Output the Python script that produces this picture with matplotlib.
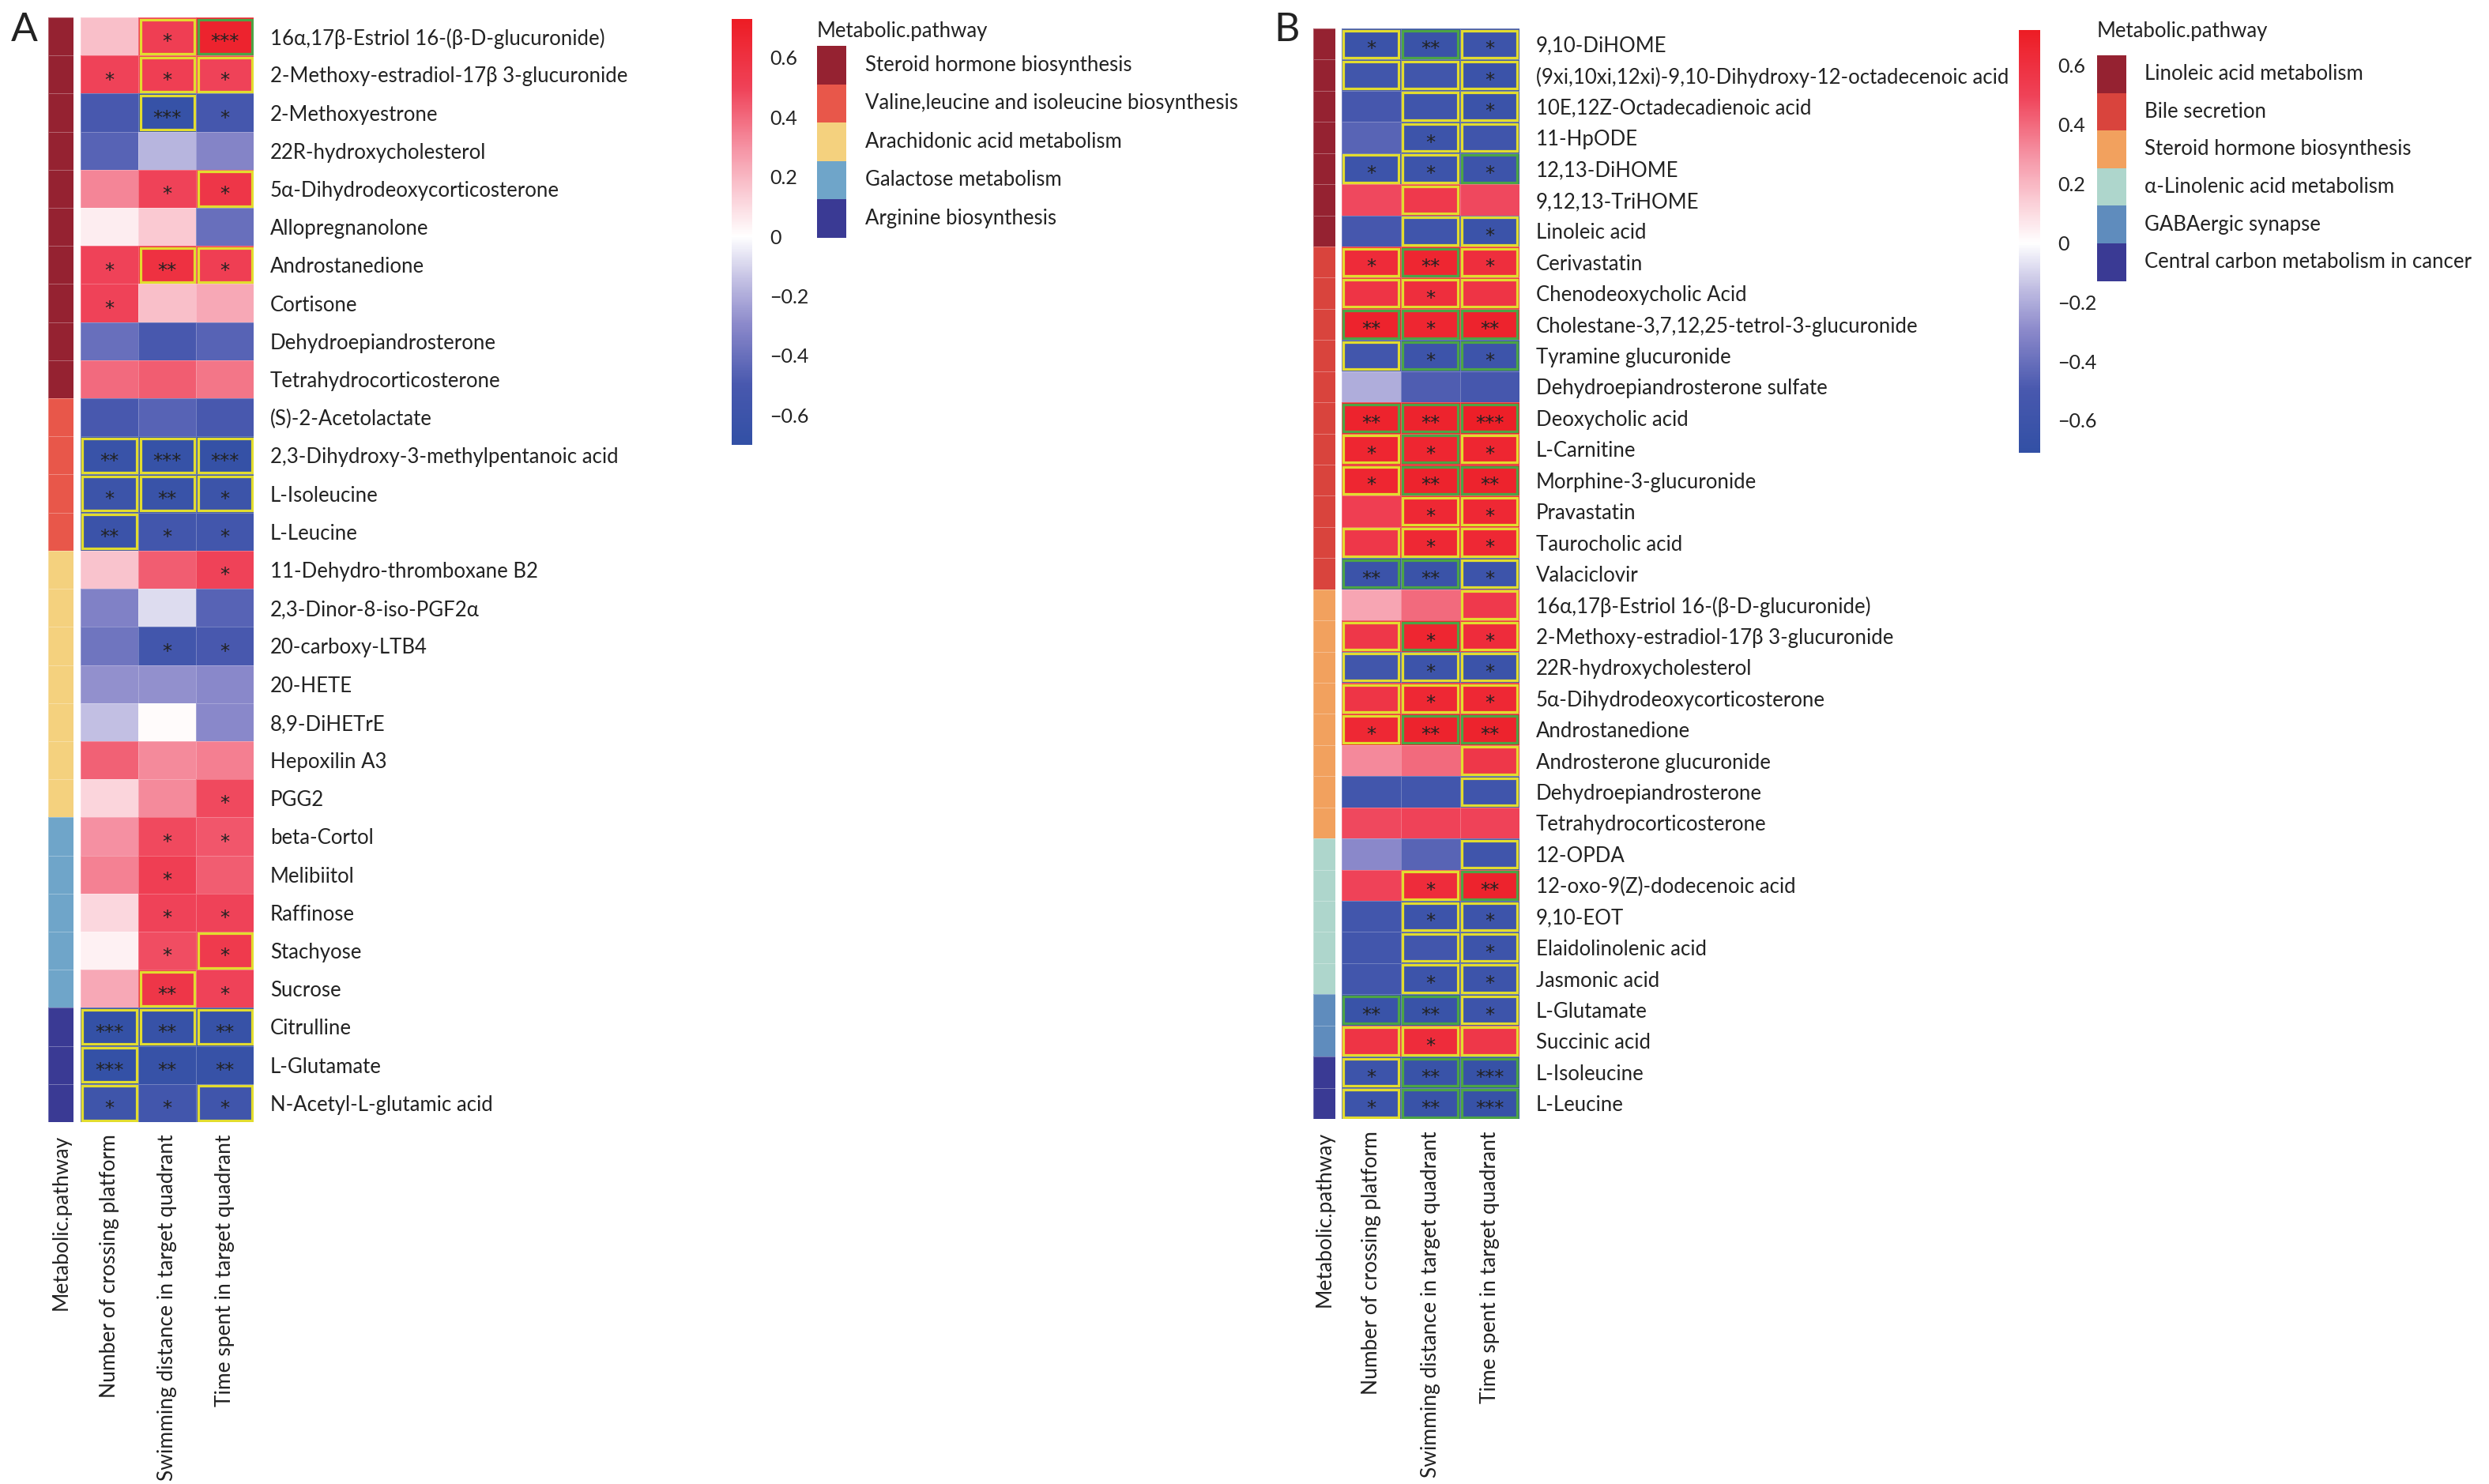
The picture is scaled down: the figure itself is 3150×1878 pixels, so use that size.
import numpy as np
import matplotlib
matplotlib.use('Agg')
import matplotlib.pyplot as plt
from matplotlib.colors import LinearSegmentedColormap, ListedColormap, Normalize, BoundaryNorm
from matplotlib.patches import Rectangle
import matplotlib.colorbar as mcolorbar

plt.rcParams['font.family'] = ['Lato', 'DejaVu Sans']

# ------------------------------------------------------------------ data
col_labels = ["Number of crossing platform",
              "Swimming distance in target quadrant",
              "Time spent in target quadrant"]
anno_label = "Metabolic.pathway"
cbar_ticks = [-0.6, -0.4, -0.2, 0, 0.2, 0.4, 0.6]
cbar_ticklabels = ["\u22120.6", "\u22120.4", "\u22120.2", "0", "0.2", "0.4", "0.6"]

# ---- Panel A
pathways_A = ["Steroid hormone biosynthesis",
              "Valine,leucine and isoleucine biosynthesis",
              "Arachidonic acid metabolism",
              "Galactose metabolism",
              "Arginine biosynthesis"]
pathway_colors_A = ["#952231", "#E8574A", "#F4D17E", "#6FA5C9", "#3A3A94"]

rows_A = ["16\u03b1,17\u03b2-Estriol 16-(\u03b2-D-glucuronide)",
          "2-Methoxy-estradiol-17\u03b2 3-glucuronide",
          "2-Methoxyestrone",
          "22R-hydroxycholesterol",
          "5\u03b1-Dihydrodeoxycorticosterone",
          "Allopregnanolone",
          "Androstanedione",
          "Cortisone",
          "Dehydroepiandrosterone",
          "Tetrahydrocorticosterone",
          "(S)-2-Acetolactate",
          "2,3-Dihydroxy-3-methylpentanoic acid",
          "L-Isoleucine",
          "L-Leucine",
          "11-Dehydro-thromboxane B2",
          "2,3-Dinor-8-iso-PGF2\u03b1",
          "20-carboxy-LTB4",
          "20-HETE",
          "8,9-DiHETrE",
          "Hepoxilin A3",
          "PGG2",
          "beta-Cortol",
          "Melibiitol",
          "Raffinose",
          "Stachyose",
          "Sucrose",
          "Citrulline",
          "L-Glutamate",
          "N-Acetyl-L-glutamic acid"]
path_A = [0]*10 + [1]*4 + [2]*7 + [3]*5 + [4]*3

cross_A = [0.18, 0.50, -0.50, -0.45, 0.33, 0.05, 0.50, 0.50, -0.40, 0.40,
           -0.50, -0.63, -0.60, -0.62,
           0.17, -0.33, -0.38, -0.28, -0.15, 0.42, 0.12,
           0.30, 0.34, 0.11, 0.04, 0.24,
           -0.68, -0.68, -0.58]
swim_A = [0.52, 0.52, -0.66, -0.18, 0.50, 0.15, 0.60, 0.18, -0.50, 0.43,
          -0.45, -0.66, -0.63, -0.55,
          0.43, -0.08, -0.55, -0.28, 0.01, 0.32, 0.32,
          0.48, 0.52, 0.50, 0.47, 0.57,
          -0.65, -0.65, -0.55]
time_A = [0.68, 0.50, -0.53, -0.32, 0.57, -0.40, 0.52, 0.24, -0.45, 0.37,
          -0.50, -0.67, -0.60, -0.55,
          0.50, -0.45, -0.50, -0.30, -0.30, 0.35, 0.48,
          0.45, 0.43, 0.50, 0.55, 0.50,
          -0.65, -0.65, -0.57]
stars_cross_A = ["", "*", "", "", "", "", "*", "*", "", "",
                 "", "**", "*", "**",
                 "", "", "", "", "", "", "",
                 "", "", "", "", "",
                 "***", "***", "*"]
stars_swim_A = ["*", "*", "***", "", "*", "", "**", "", "", "",
                "", "***", "**", "*",
                "", "", "*", "", "", "", "",
                "*", "*", "*", "*", "**",
                "**", "**", "*"]
stars_time_A = ["***", "*", "*", "", "*", "", "*", "", "", "",
                "", "***", "*", "*",
                "*", "", "*", "", "", "", "*",
                "*", "", "*", "*", "*",
                "**", "**", "*"]
box_cross_A = ["", "", "", "", "", "", "", "", "", "",
               "", "y", "y", "y",
               "", "", "", "", "", "", "",
               "", "", "", "", "",
               "y", "y", "y"]
box_swim_A = ["y", "y", "y", "", "", "", "y", "", "", "",
              "", "y", "y", "",
              "", "", "", "", "", "", "",
              "", "", "", "", "y",
              "y", "", ""]
box_time_A = ["g", "y", "", "", "y", "", "y", "", "", "",
              "", "y", "y", "",
              "", "", "", "", "", "", "",
              "", "", "", "y", "",
              "y", "", "y"]

# ---- Panel B
pathways_B = ["Linoleic acid metabolism",
              "Bile secretion",
              "Steroid hormone biosynthesis",
              "\u03b1-Linolenic acid metabolism",
              "GABAergic synapse",
              "Central carbon metabolism in cancer"]
pathway_colors_B = ["#952231", "#D9443D", "#F2A15E", "#AED6CC", "#5F8CBD", "#3A3A94"]

rows_B = ["9,10-DiHOME",
          "(9xi,10xi,12xi)-9,10-Dihydroxy-12-octadecenoic acid",
          "10E,12Z-Octadecadienoic acid",
          "11-HpODE",
          "12,13-DiHOME",
          "9,12,13-TriHOME",
          "Linoleic acid",
          "Cerivastatin",
          "Chenodeoxycholic Acid",
          "Cholestane-3,7,12,25-tetrol-3-glucuronide",
          "Tyramine glucuronide",
          "Dehydroepiandrosterone sulfate",
          "Deoxycholic acid",
          "L-Carnitine",
          "Morphine-3-glucuronide",
          "Pravastatin",
          "Taurocholic acid",
          "Valaciclovir",
          "16\u03b1,17\u03b2-Estriol 16-(\u03b2-D-glucuronide)",
          "2-Methoxy-estradiol-17\u03b2 3-glucuronide",
          "22R-hydroxycholesterol",
          "5\u03b1-Dihydrodeoxycorticosterone",
          "Androstanedione",
          "Androsterone glucuronide",
          "Dehydroepiandrosterone",
          "Tetrahydrocorticosterone",
          "12-OPDA",
          "12-oxo-9(Z)-dodecenoic acid",
          "9,10-EOT",
          "Elaidolinolenic acid",
          "Jasmonic acid",
          "L-Glutamate",
          "Succinic acid",
          "L-Isoleucine",
          "L-Leucine"]
path_B = [0]*7 + [1]*11 + [2]*8 + [3]*5 + [4]*2 + [5]*2

cross_B = [-0.62, -0.56, -0.52, -0.45, -0.60, 0.48, -0.52,
           0.63, 0.58, 0.68, -0.55, -0.20, 0.68, 0.66, 0.66, 0.52, 0.56, -0.62,
           0.25, 0.56, -0.56, 0.57, 0.65, 0.32, -0.55, 0.48,
           -0.30, 0.50, -0.55, -0.55, -0.55,
           -0.64, 0.58,
           -0.60, -0.60]
swim_B = [-0.63, -0.56, -0.58, -0.60, -0.60, 0.55, -0.58,
          0.66, 0.61, 0.66, -0.60, -0.48, 0.68, 0.66, 0.68, 0.65, 0.65, -0.63,
          0.40, 0.66, -0.60, 0.65, 0.68, 0.40, -0.55, 0.50,
          -0.45, 0.62, -0.60, -0.55, -0.60,
          -0.64, 0.62,
          -0.64, -0.64]
time_B = [-0.60, -0.62, -0.62, -0.58, -0.60, 0.48, -0.62,
          0.61, 0.58, 0.68, -0.60, -0.52, 0.70, 0.66, 0.68, 0.65, 0.65, -0.60,
          0.55, 0.62, -0.62, 0.65, 0.68, 0.56, -0.58, 0.50,
          -0.58, 0.68, -0.60, -0.60, -0.60,
          -0.60, 0.56,
          -0.66, -0.66]
stars_cross_B = ["*", "", "", "", "*", "", "",
                 "*", "", "**", "", "", "**", "*", "*", "", "", "**",
                 "", "", "", "", "*", "", "", "",
                 "", "", "", "", "",
                 "**", "",
                 "*", "*"]
stars_swim_B = ["**", "", "", "*", "*", "", "",
                "**", "*", "*", "*", "", "**", "*", "**", "*", "*", "**",
                "", "*", "*", "*", "**", "", "", "",
                "", "*", "*", "", "*",
                "**", "*",
                "**", "**"]
stars_time_B = ["*", "*", "*", "", "*", "", "*",
                "*", "", "**", "*", "", "***", "*", "**", "*", "*", "*",
                "", "*", "*", "*", "**", "", "", "",
                "", "**", "*", "*", "*",
                "*", "",
                "***", "***"]
box_cross_B = ["y", "y", "", "", "y", "", "",
               "y", "y", "g", "y", "", "g", "y", "y", "", "y", "g",
               "", "y", "y", "y", "y", "", "", "",
               "", "", "", "", "",
               "g", "y",
               "y", "y"]
box_swim_B = ["g", "y", "y", "y", "y", "y", "y",
              "g", "y", "g", "g", "", "g", "g", "g", "y", "y", "g",
              "", "g", "y", "y", "g", "", "", "",
              "", "y", "y", "y", "y",
              "g", "y",
              "g", "g"]
box_time_B = ["y", "y", "y", "y", "g", "", "y",
              "y", "y", "g", "g", "", "g", "y", "g", "y", "y", "y",
              "y", "y", "y", "y", "g", "y", "y", "",
              "y", "g", "y", "y", "y",
              "y", "y",
              "g", "g"]

# ------------------------------------------------------------------ style
W, H = 3150, 1878
fig = plt.figure(figsize=(W / 100, H / 100), dpi=100)
fig.patch.set_facecolor('white')

BOX_COLORS = {"y": "#E2DC2E", "g": "#4CA445"}
FS_ROW = 18.5
FS_COL = 19
FS_LEG = 18.5
FS_STAR = 17.5
TXT = '#222222'


def ax_px(x0, y0, x1, y1):
    return fig.add_axes([x0 / W, 1 - y1 / H, (x1 - x0) / W, (y1 - y0) / H])


def make_cmap(vmin, vmax):
    anchors = [(-0.75, (50, 80, 165)), (-0.5, (72, 88, 174)), (-0.3, (138, 136, 202)),
               (-0.15, (194, 191, 227)), (0.0, (255, 255, 255)), (0.15, (250, 202, 211)),
               (0.3, (245, 146, 163)), (0.5, (239, 66, 88)), (0.75, (237, 28, 36))]
    pts = []
    for v, c in anchors:
        p = (v - vmin) / (vmax - vmin)
        pts.append((min(max(p, 0.0), 1.0), tuple(ch / 255 for ch in c)))
    clean = []
    for p, c in pts:
        if clean and abs(clean[-1][0] - p) < 1e-9:
            if p == 0:
                clean[-1] = (p, c)
            continue
        clean.append((p, c))
    return LinearSegmentedColormap.from_list("rb", clean, N=256)


def style_axes(ax):
    for s in ax.spines.values():
        s.set_visible(False)


def draw_panel(letter, letter_xy, rows, path_idx, pathways, path_colors,
               cols, stars, boxes, vmin, vmax, g):
    n = len(rows)
    M = np.column_stack(cols)
    cmap = make_cmap(vmin, vmax)
    norm = Normalize(vmin=vmin, vmax=vmax)

    # annotation bar
    axa = ax_px(g['anno'][0], g['y0'], g['anno'][1], g['y1'])
    pc = ListedColormap(path_colors)
    pn = BoundaryNorm(np.arange(len(path_colors) + 1) - 0.5, len(path_colors))
    axa.pcolormesh(np.arange(2), np.arange(n + 1), np.array(path_idx)[:, None],
                   cmap=pc, norm=pn, edgecolors=(1, 1, 1, 0.3), linewidth=0.6)
    axa.set_xlim(0, 1)
    axa.set_ylim(n, 0)
    axa.set_yticks([])
    axa.set_xticks([0.5])
    axa.set_xticklabels([anno_label], rotation=90, fontsize=FS_COL, color=TXT)
    axa.tick_params(axis='x', length=0, pad=g['xpad'])
    style_axes(axa)

    # heatmap
    ax = ax_px(g['heat'][0], g['y0'], g['heat'][1], g['y1'])
    ax.pcolormesh(np.arange(4), np.arange(n + 1), M, cmap=cmap, norm=norm,
                  edgecolors=(1, 1, 1, 0.25), linewidth=0.6)
    ax.set_xlim(0, 3)
    ax.set_ylim(n, 0)
    ax.set_yticks(np.arange(n) + 0.5)
    ax.set_yticklabels(rows, fontsize=FS_ROW, color=TXT)
    ax.yaxis.tick_right()
    ax.tick_params(axis='y', length=0, pad=g['ypad'])
    ax.set_xticks(np.arange(3) + 0.5)
    ax.set_xticklabels(col_labels, rotation=90, fontsize=FS_COL, color=TXT)
    ax.tick_params(axis='x', length=0, pad=g['xpad'])
    style_axes(ax)

    cw = (g['heat'][1] - g['heat'][0]) / 3.0
    rh = (g['y1'] - g['y0']) / n
    ix = 2.5 / cw
    iy = 2.5 / rh
    for j in range(3):
        for i in range(n):
            s = stars[j][i]
            if s:
                ax.text(j + 0.5, i + 0.5 + g['star_dy'], s, ha='center', va='center',
                        fontsize=FS_STAR, color=TXT, family='DejaVu Sans')
            b = boxes[j][i]
            if b:
                ax.add_patch(Rectangle((j + ix, i + iy), 1 - 2 * ix, 1 - 2 * iy,
                                       fill=False, ec=BOX_COLORS[b], lw=2.3, zorder=3))

    # colorbar
    cx0, cy0, cx1, cy1 = g['cbar']
    axc = ax_px(cx0, cy0, cx1, cy1)
    cb = mcolorbar.ColorbarBase(axc, cmap=cmap, norm=norm, orientation='vertical')
    cb.outline.set_visible(False)
    cb.set_ticks(cbar_ticks)
    cb.set_ticklabels(cbar_ticklabels)
    axc.tick_params(axis='y', length=0, pad=g['cpad'], labelsize=18, colors=TXT)

    # legend
    lx, ly_title, ly0, pw, ph, tx = g['leg']
    axl = ax_px(lx - 5, ly_title - 30, lx + 800, ly0 + ph * len(pathways) + 20)
    axl.set_xlim(lx - 5, lx + 800)
    axl.set_ylim(ly0 + ph * len(pathways) + 20, ly_title - 30)
    axl.axis('off')
    axl.text(lx, ly_title, anno_label, ha='left', va='center', fontsize=FS_LEG, color=TXT)
    for k, (name, col) in enumerate(zip(pathways, path_colors)):
        axl.add_patch(Rectangle((lx, ly0 + k * ph), pw, ph, fc=col, ec='none'))
        axl.text(tx, ly0 + (k + 0.5) * ph, name, ha='left', va='center',
                 fontsize=FS_LEG, color=TXT)

    fig.text(letter_xy[0] / W, 1 - letter_xy[1] / H, letter, fontsize=36,
             ha='left', va='center', color=TXT)


draw_panel("A", (14, 38), rows_A, path_A, pathways_A, pathway_colors_A,
           [cross_A, swim_A, time_A],
           [stars_cross_A, stars_swim_A, stars_time_A],
           [box_cross_A, box_swim_A, box_time_A],
           -0.70, 0.73,
           dict(anno=(61, 93), heat=(102, 321), y0=22, y1=1420,
                ypad=15, xpad=11, star_dy=0.15,
                cbar=(926, 24, 952, 563), cpad=16,
                leg=(1034, 40, 58, 37, 48.5, 1095)))

draw_panel("B", (1612, 38), rows_B, path_B, pathways_B, pathway_colors_B,
           [cross_B, swim_B, time_B],
           [stars_cross_B, stars_swim_B, stars_time_B],
           [box_cross_B, box_swim_B, box_time_B],
           -0.71, 0.72,
           dict(anno=(1662, 1690), heat=(1698, 1923), y0=36, y1=1416,
                ypad=15, xpad=11, star_dy=0.17,
                cbar=(2555, 38, 2582, 573), cpad=16,
                leg=(2654, 40, 70, 37, 47.6, 2714)))

fig.savefig("out.png", dpi=100, facecolor='white')
